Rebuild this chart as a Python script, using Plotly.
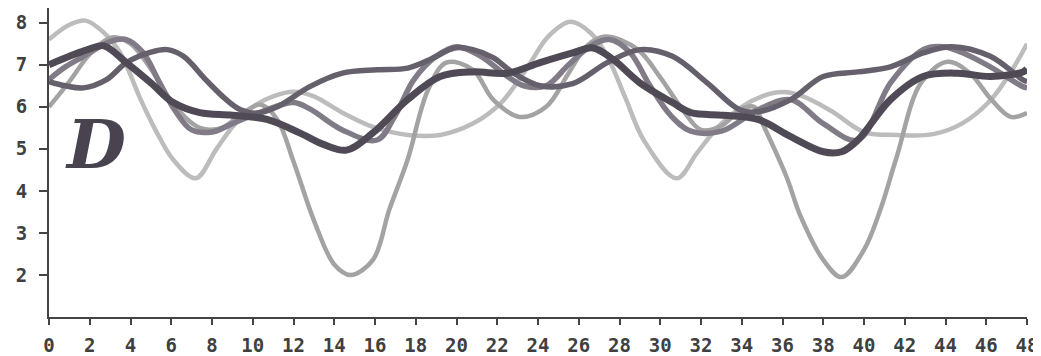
import plotly.graph_objects as go

# ---- data ----
la_x = [0, 1, 1.8, 2.7, 3.5, 4.5, 5.3, 6.1, 7.2, 8.2, 9, 10, 11, 12, 13, 14.4, 15.9, 17.6, 19.2, 20.8,
        22.2, 23.5, 24.5, 25.6, 26.6, 27.4, 28.3, 29.2, 30.8, 31.8, 32.8, 34, 35, 36, 37, 38.4, 40,
        41.6, 43.4, 44.8, 46.2, 47.3, 48]
la_y = [7.6, 7.95, 8.05, 7.76, 7.28, 6.17, 5.38, 4.74, 4.3, 4.98, 5.52, 6.0, 6.25, 6.36, 6.25, 5.86,
        5.52, 5.33, 5.33, 5.6, 6.1, 6.95, 7.67, 8.02, 7.75, 7.2, 6.2, 5.2, 4.3, 4.9, 5.5, 6.0, 6.25,
        6.35, 6.25, 5.9, 5.4, 5.33, 5.35, 5.6, 6.15, 6.9, 7.5]

lb_x = [0, 1, 2, 3.1, 4, 5, 6.2, 7.4, 8.5, 9.5, 10.4, 11.2, 12, 13, 14, 14.8, 15.9, 16.7, 17.6, 18.6,
        19.5, 20.8, 21.8, 23.1, 24.4, 25.5, 26.4, 27.3, 28.9, 30, 31.1, 32, 33, 34, 34.6, 35.1, 36.2,
        36.9, 38, 38.9, 40, 40.8, 41.6, 42.8, 44.1, 45.2, 46.2, 47.2, 48]
lb_y = [6.0, 6.6, 7.25, 7.65, 7.5, 6.9, 6.0, 5.5, 5.5, 5.85, 6.05, 5.7, 4.7, 3.3, 2.25, 2.0, 2.36, 3.55,
        4.74, 6.4, 7.05, 6.88, 6.17, 5.76, 6.0, 6.8, 7.45, 7.67, 7.36, 6.7, 5.93, 5.45, 5.55, 5.95, 6.0,
        5.52, 4.33, 3.38, 2.36, 1.95, 2.6, 3.55, 4.8, 6.57, 7.07, 6.8, 6.2, 5.76, 5.85]

m_x = [0, 0.8, 1.7, 3, 3.8, 4.6, 5.4, 6.2, 7, 8, 9, 10.7, 12, 12.8, 14.4, 16.1, 17, 17.9, 19, 20, 21.2,
       22.5, 23.3, 24.4, 25.5, 26.6, 27.5, 28.5, 29.5, 30.5, 31.5, 33, 34.8, 36.4, 38, 39.7, 41.3,
       42.9, 43.9, 45, 46.2, 47.8, 48]
m_y = [6.65, 6.95, 7.2, 7.55, 7.6, 7.3, 6.6, 5.9, 5.45, 5.4, 5.6, 5.93, 6.1, 5.95, 5.45, 5.21, 5.8,
       6.64, 7.2, 7.43, 7.2, 6.72, 6.5, 6.5, 7.0, 7.45, 7.6, 7.3, 6.5, 5.8, 5.42, 5.42, 5.93, 6.17,
       5.6, 5.21, 6.57, 7.36, 7.43, 7.25, 6.95, 6.48, 6.45]

d2_x = [0, 0.8, 1.7, 2.8, 3.8, 5, 5.8, 6.6, 7.7, 8.7, 9.4, 10.2, 11.2, 12.8, 14.4, 16.1, 17.6, 18.8,
        19.9, 20.8, 21.8, 22.8, 24.1, 25.7, 27.4, 29, 30.6, 32.3, 33.9, 34.8, 36.4, 38, 39.7, 41.3,
        42.9, 44.3, 46.2, 47.8, 48]
d2_y = [6.6, 6.5, 6.45, 6.64, 7.05, 7.3, 7.36, 7.2, 6.64, 6.17, 5.93, 5.85, 6.0, 6.48, 6.8, 6.88,
        6.92, 7.15, 7.4, 7.36, 7.17, 6.8, 6.5, 6.55, 7.05, 7.36, 7.2, 6.57, 5.93, 5.88, 6.17, 6.72,
        6.83, 6.95, 7.28, 7.43, 7.2, 6.64, 6.6]

d1_x = [0, 1, 2, 2.7, 3.8, 5, 6.1, 7.4, 9, 10.7, 12.3, 13.5, 14.6, 15.9, 17.6, 19.2, 20.8, 22.5, 24.1,
        25.7, 26.7, 27.7, 29, 30.6, 31.5, 33.1, 34.8, 36.4, 38, 38.9, 39.7, 41.3, 42.9, 44.6, 46.2,
        47.8, 48]
d1_y = [7.0, 7.2, 7.38, 7.45, 7.05, 6.57, 6.1, 5.86, 5.8, 5.7, 5.38, 5.1, 4.97, 5.38, 6.17, 6.72,
        6.83, 6.8, 7.05, 7.28, 7.4, 7.12, 6.57, 6.1, 5.86, 5.8, 5.7, 5.29, 4.93, 4.93, 5.21, 6.17,
        6.72, 6.8, 6.72, 6.83, 6.9]

x_ticks = list(range(0, 49, 2))
y_ticks = [2, 3, 4, 5, 6, 7, 8]
panel_label = "D"

series = [
    (la_x, la_y, "#bcbcbc", 4.5),
    (lb_x, lb_y, "#a3a3a3", 4.5),
    (m_x, m_y, "#807b86", 5.5),
    (d2_x, d2_y, "#65606b", 5.5),
    (d1_x, d1_y, "#4f4a55", 7),
]

fig = go.Figure()
for xs, ys, col, w in series:
    fig.add_trace(go.Scatter(x=xs, y=ys, mode="lines",
                             line=dict(color=col, width=w, shape="spline", smoothing=1.0),
                             showlegend=False, hoverinfo="skip"))

fig.add_annotation(x=2.3, y=5.12, xref="x", yref="y", text="<b><i>" + panel_label + "</i></b>",
                   showarrow=False, xanchor="center", yanchor="middle",
                   font=dict(family="DejaVu Serif", size=68, color="#48434e"))

tickfont = dict(family="DejaVu Sans Mono", size=19, color="#404040", weight="bold")
fig.update_xaxes(range=[0, 48], tickvals=x_ticks, ticktext=[str(v) for v in x_ticks],
                 showline=True, linecolor="#444444", linewidth=2, ticks="outside",
                 ticklen=6, tickwidth=2, tickcolor="#444444", showgrid=False, zeroline=False,
                 tickfont=tickfont, automargin=False, ticklabelstandoff=4)
fig.update_yaxes(range=[1.0, 8.35], tickvals=y_ticks, ticktext=[str(v) for v in y_ticks],
                 showline=True, linecolor="#444444", linewidth=2, ticks="outside",
                 ticklen=8, tickwidth=2, tickcolor="#444444", showgrid=False, zeroline=False,
                 tickfont=tickfont, automargin=False, ticklabelstandoff=8)

# the page body keeps its default 8px margin, so the figure is sized to fit inside it
fig.update_layout(width=1033, height=348, margin=dict(l=41, r=14, t=0, b=39),
                  paper_bgcolor="white", plot_bgcolor="white")

fig.write_html("out.html")
